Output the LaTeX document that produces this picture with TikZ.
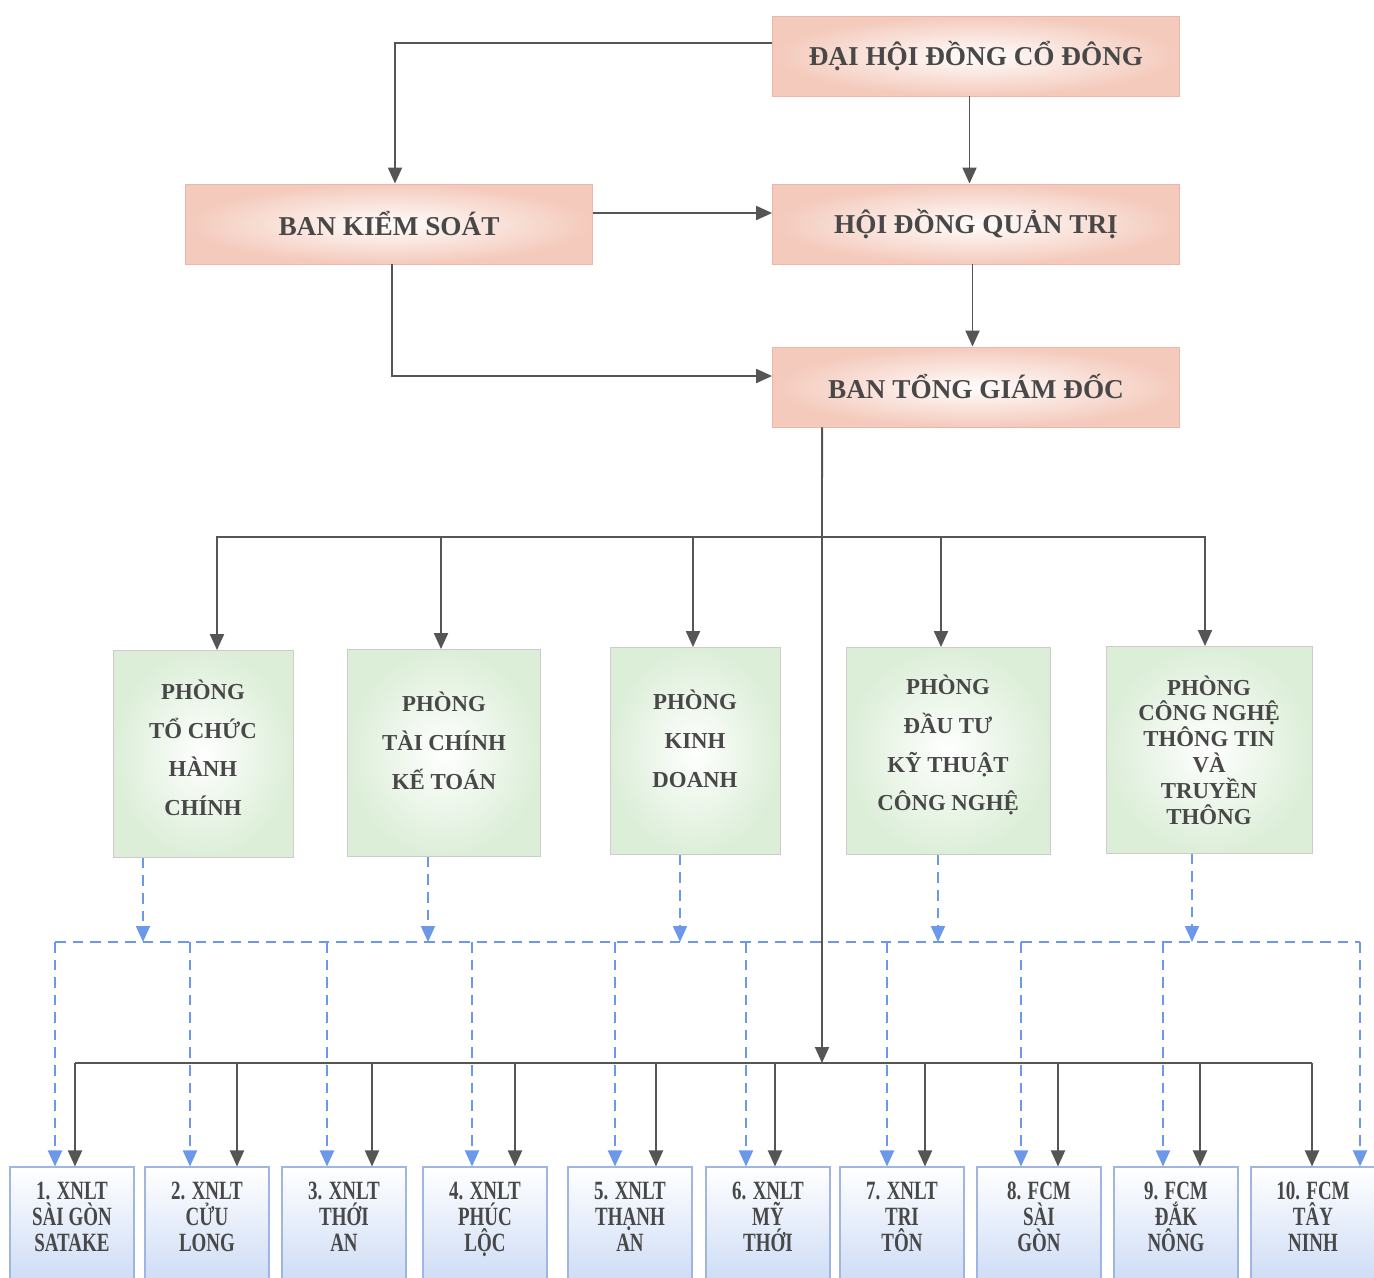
\documentclass[tikz,border=0pt]{standalone}
\usepackage{fontspec}
\setmainfont{Liberation Serif}
\newfontfamily\narrowfont[FakeStretch=0.72]{Liberation Serif}
\usepackage{tikz}
\usetikzlibrary{positioning, arrows.meta}
\definecolor{linegray}{RGB}{85,85,85}
\definecolor{textgray}{RGB}{72,72,72}
\definecolor{pinkedge}{RGB}{244,202,188}
\definecolor{pinkrim}{RGB}{236,182,168}
\definecolor{pinkcore}{RGB}{255,253,252}
\definecolor{greenedge}{RGB}{220,238,216}
\definecolor{greencore}{RGB}{255,255,255}
\definecolor{unitblue}{RGB}{204,219,245}
\definecolor{unitrim}{RGB}{160,182,224}
\definecolor{dashblue}{RGB}{108,152,232}
% empty last line to lift a node's text a little
\newcommand{\liftby}[1]{\\[#1]\mbox{}}
\tikzset{
  % --- management boxes ---
  topbox/.style={rectangle, inner sep=0pt, minimum width=8.14cm, minimum height=1.6cm,
    draw=pinkrim, line width=0.5pt, inner color=pinkcore, outer color=pinkedge,
    font=\fontsize{15.5}{18}\selectfont\bfseries, text=textgray},
  % --- departments ---
  phongbox/.style={rectangle, inner sep=0pt, minimum height=4.14cm, align=center,
    draw=gray!40, line width=0.5pt, inner color=greencore, outer color=greenedge,
    font=\fontsize{13}{22}\selectfont\bfseries, text=textgray},
  % --- units ---
  unitbox/.style={rectangle, inner sep=0pt, minimum width=2.48cm, minimum height=2.36cm,
    align=center, draw=unitrim, line width=0.6pt, top color=white, bottom color=unitblue,
    font=\narrowfont\bfseries\fontsize{15}{14.7}\selectfont, text=textgray},
  % --- connectors ---
  conn/.style={-{Triangle[length=3.2mm, width=2.8mm]}, draw=linegray, line width=1.1pt},
  busline/.style={draw=linegray, line width=1.1pt},
  dashconn/.style={-{Triangle[length=3.2mm, width=2.8mm]}, draw=dashblue, line width=1.1pt,
    dash pattern=on 6pt off 4pt},
  dashline/.style={draw=dashblue, line width=1.1pt, dash pattern=on 6pt off 4pt},
}

\begin{document}
\begin{tikzpicture}[x=0.02cm, y=-0.02cm]
  \useasboundingbox (0,0) rectangle (1374,1278);
  % management
  \node[topbox] (dhdcd) at (976,56)  {ĐẠI HỘI ĐỒNG CỔ ĐÔNG};
  \node[topbox] (bks)   at (389,224) {BAN KIỂM SOÁT};
  \node[topbox] (hdqt)  at (976,224) {HỘI ĐỒNG QUẢN TRỊ};
  \node[topbox] (btgd)  at (976,387) {BAN TỔNG GIÁM ĐỐC};
  \draw[conn] ([yshift=0.26cm]dhdcd.west) -| ([xshift=0.12cm]bks.north);
  \draw[conn] ([xshift=-0.13cm]dhdcd.south) -- ([xshift=-0.13cm]hdqt.north);
  \draw[conn] ([yshift=0.22cm]bks.east) -- ([yshift=0.22cm]hdqt.west);
  \draw[conn] ([xshift=-0.07cm]hdqt.south) -- ([xshift=-0.07cm]btgd.north);
  \draw[conn] ([xshift=0.06cm]bks.south) |- ([yshift=0.22cm]btgd.west);
  % departments
  \node[phongbox, minimum width=3.6cm]  (ptc) at (203,754)  {PHÒNG\\TỔ CHỨC\\HÀNH\\CHÍNH\liftby{-15pt}};
  \node[phongbox, minimum width=3.86cm] (ptk) at (444,753)  {PHÒNG\\TÀI CHÍNH\\KẾ TOÁN\liftby{-8pt}};
  \node[phongbox, minimum width=3.4cm]  (pkd) at (695,751)  {PHÒNG\\KINH\\DOANH\liftby{-8pt}};
  \node[phongbox, minimum width=4.08cm] (pdt) at (948,751)  {PHÒNG\\ĐẦU TƯ\\KỸ THUẬT\\CÔNG NGHỆ\liftby{-13pt}};
  \node[phongbox, minimum width=4.12cm, font=\fontsize{13}{14.7}\selectfont\bfseries]
    (pcn) at (1209,750) {PHÒNG\\CÔNG NGHỆ\\THÔNG TIN\\VÀ\\TRUYỀN\\THÔNG};
  % trunk from the board of directors
  \coordinate (trunk) at (822,537);
  \coordinate (hub) at (822,1063);
  \draw[conn] ([xshift=-3.08cm]btgd.south) -- (hub);
  \draw[conn] (trunk) -| ([xshift=0.28cm]ptc.north);
  \draw[conn] (trunk) -| ([xshift=-0.06cm]ptk.north);
  \draw[conn] (trunk) -| ([xshift=-0.04cm]pkd.north);
  \draw[conn] (trunk) -| ([xshift=-0.14cm]pdt.north);
  \draw[conn] (trunk) -| ([xshift=-0.08cm]pcn.north);
  % units
  \node[unitbox] (u1)  at (72,1226)   {1. XNLT\\SÀI GÒN\\SATAKE\liftby{-4.5pt}};
  \node[unitbox] (u2)  at (207,1226)  {2. XNLT\\CỬU\\LONG\liftby{-4.5pt}};
  \node[unitbox] (u3)  at (344,1226)  {3. XNLT\\THỚI\\AN\liftby{-4.5pt}};
  \node[unitbox] (u4)  at (485,1226)  {4. XNLT\\PHÚC\\LỘC\liftby{-4.5pt}};
  \node[unitbox] (u5)  at (630,1226)  {5. XNLT\\THẠNH\\AN\liftby{-4.5pt}};
  \node[unitbox] (u6)  at (768,1226)  {6. XNLT\\MỸ\\THỚI\liftby{-4.5pt}};
  \node[unitbox] (u7)  at (902,1226)  {7. XNLT\\TRI\\TÔN\liftby{-4.5pt}};
  \node[unitbox] (u8)  at (1039,1226) {8. FCM\\SÀI\\GÒN\liftby{-4.5pt}};
  \node[unitbox] (u9)  at (1176,1226) {9. FCM\\ĐẮK\\NÔNG\liftby{-4.5pt}};
  \node[unitbox] (u10) at (1313,1226) {10. FCM\\TÂY\\NINH\liftby{-4.5pt}};
  % dashed links: departments -> units
  \foreach \p/\x in {ptc/143, ptk/428, pkd/680, pdt/938, pcn/1192}{
    \coordinate (g\p) at (\x,942);
    \draw[dashconn] (g\p |- \p.south) -- (g\p);
  }
  \foreach \u/\x in {u1/55, u2/190, u3/327, u4/472, u5/615, u6/746, u7/887, u8/1021, u9/1163, u10/1360}{
    \coordinate (d\u) at (\x,942);
    \draw[dashconn] (d\u) -- (d\u |- \u.north);
  }
  \draw[dashline] (du1) -- (du10);
  % solid links: hub -> units
  \foreach \u/\x in {u1/75, u2/237, u3/372, u4/515, u5/656, u6/775, u7/925, u8/1058, u9/1200, u10/1312}{
    \coordinate (s\u) at (\x,1063);
    \draw[conn] (s\u) -- (s\u |- \u.north);
  }
  \draw[busline] (su1) -- (su10);
\end{tikzpicture}
\end{document}
